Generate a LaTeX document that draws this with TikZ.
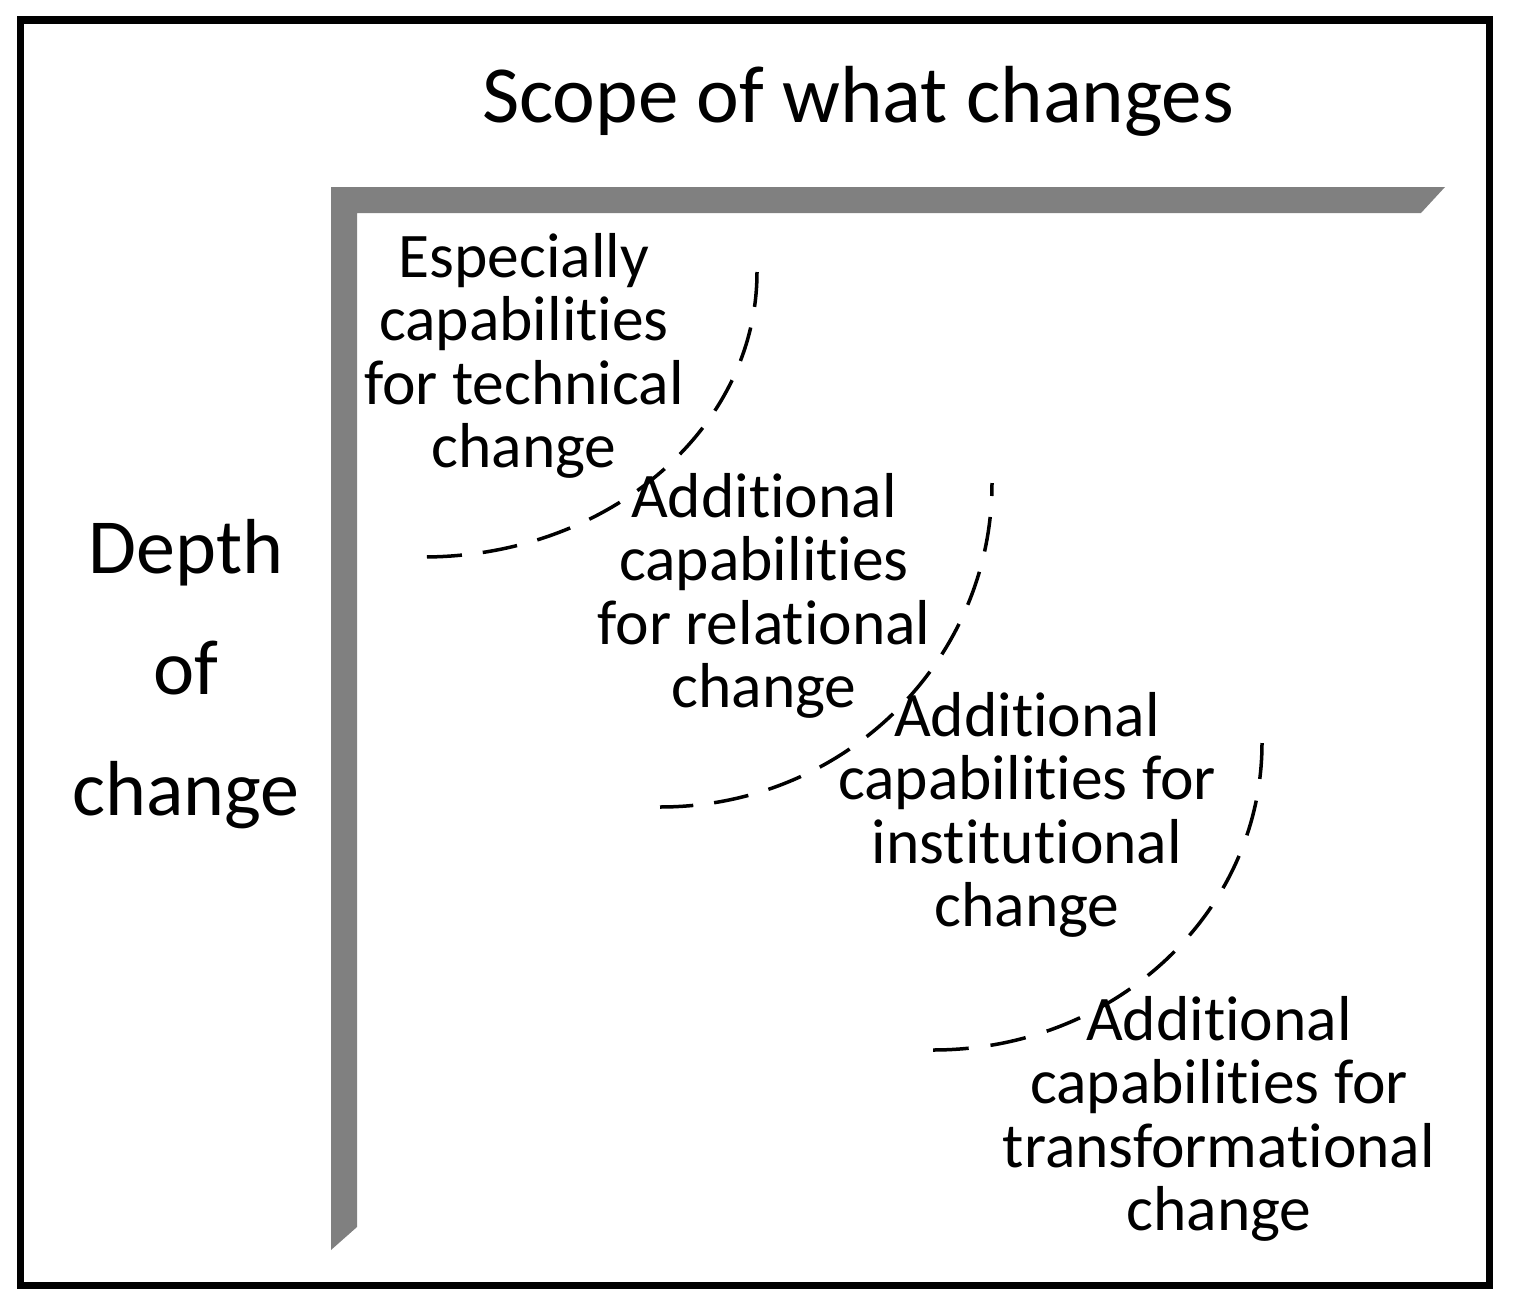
\documentclass[tikz,border=0pt]{standalone}
\usepackage{fontspec}
\setmainfont{Carlito}[Ligatures={NoCommon,NoRequired,NoContextual}]
\newcommand{\blk}[1]{\begin{tabular}[t]{@{}c@{}}#1\end{tabular}}
\begin{document}
\begin{tikzpicture}[x=1pt,y=-1pt,
  frame/.style={draw=black,line width=7.5pt},
  bar/.style={fill=black!50,draw=none},
  bound/.style={draw=black,line width=3.5pt,dash pattern=on 35pt off 21pt},
  body/.style={anchor=base,inner sep=0pt,font=\fontsize{63.5}{63.5}\selectfont},
  axis/.style={anchor=base,inner sep=0pt,font=\fontsize{78}{121}\selectfont}]
\useasboundingbox (0,0) rectangle (1513,1309);
\draw[frame] (20.5,20) rectangle (1489.5,1285.5);
% gray L
\fill[bar] (331,187) -- (1445,187) -- (1421,213) -- (357,213) -- (357,1227) -- (331,1250) -- cycle;
% axis labels
\node[axis,font=\fontsize{81}{121}\selectfont] (scope) at (858,122) {Scope of what changes};
\node[axis] (depth) at (186,573) {\blk{Depth\\of\\change}};
% boundaries
\coordinate (b1) at (757,272);
\coordinate (b2) at (992,483);
\coordinate (b3) at (1262,743);
\draw[bound] (b1) arc[start angle=0,end angle=90,x radius=334,y radius=285];
\draw[bound,dash phase=22pt] (b2) arc[start angle=0,end angle=90,x radius=332,y radius=324];
\draw[bound,dash pattern=on 36pt off 22pt] (b3) arc[start angle=0,end angle=90,x radius=329,y radius=307];
% texts
\node[body] (t1) at (524,277) {\blk{Especially\\capabilities\\for technical\\change}};
\node[body] (t2) at (764,517) {\blk{Additional\\capabilities\\for relational\\change}};
\node[body] (t3) at (1027,736) {\blk{Additional\\capabilities for\\institutional\\change}};
\node[body] (t4) at (1219,1040) {\blk{Additional\\capabilities for\\transformational\\change}};
\end{tikzpicture}
\end{document}
